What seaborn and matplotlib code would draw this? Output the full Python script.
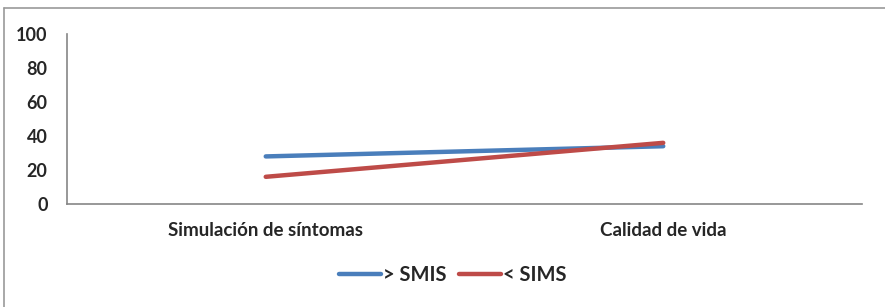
import pandas as pd
import matplotlib.pyplot as plt
import seaborn as sns

categories = ['Simulación de síntomas', 'Calidad de vida']
smis_values = [28, 34]
sims_values = [16, 36]
series_names = ['> SMIS', '< SIMS']

data = pd.DataFrame({
    'Categoria': categories * 2,
    'Valor': smis_values + sims_values,
    'Grupo': [series_names[0]] * 2 + [series_names[1]] * 2,
})

sns.set_style('white')
plt.rcParams['font.family'] = ['Lato', 'DejaVu Sans']

fig = plt.figure(figsize=(8.85, 3.07), dpi=100)
ax = fig.add_axes([0.0757, 0.3355, 0.8983, 0.5535])

sns.lineplot(data=data, x='Categoria', y='Valor', hue='Grupo',
             palette=['#4A7EBB', '#BE4B48'], linewidth=3.2,
             solid_capstyle='round', ax=ax, sort=False)

ax.set_xlim(-0.5, 1.5)
ax.set_ylim(0, 100)
ax.set_yticks([0, 20, 40, 60, 80, 100])
ax.set_xlabel('')
ax.set_ylabel('')
for side in ['top', 'right']:
    ax.spines[side].set_visible(False)
for side in ['left', 'bottom']:
    ax.spines[side].set_color('#868686')
    ax.spines[side].set_linewidth(1.2)
ax.tick_params(axis='y', length=0, pad=14, labelsize=13)
ax.tick_params(axis='x', length=0, pad=13, labelsize=13.5)
for lbl in ax.get_xticklabels() + ax.get_yticklabels():
    lbl.set_fontweight('bold')

leg = ax.legend(loc='center', bbox_to_anchor=(0.485, -0.42), ncol=2,
                frameon=False, handlelength=2.1, handletextpad=0.1,
                columnspacing=0.6, prop={'weight': 'bold', 'size': 14.5})
for h in leg.get_lines():
    h.set_linewidth(3.2)

# chart frame like the original
fig.add_artist(plt.Line2D([4 / 885, 4 / 885], [0, 1 - 8 / 307], color='#9a9a9a', linewidth=1.2))
fig.add_artist(plt.Line2D([4 / 885, 1], [1 - 8 / 307, 1 - 8 / 307], color='#9a9a9a', linewidth=1.2))

fig.savefig('out.png', dpi=100)
